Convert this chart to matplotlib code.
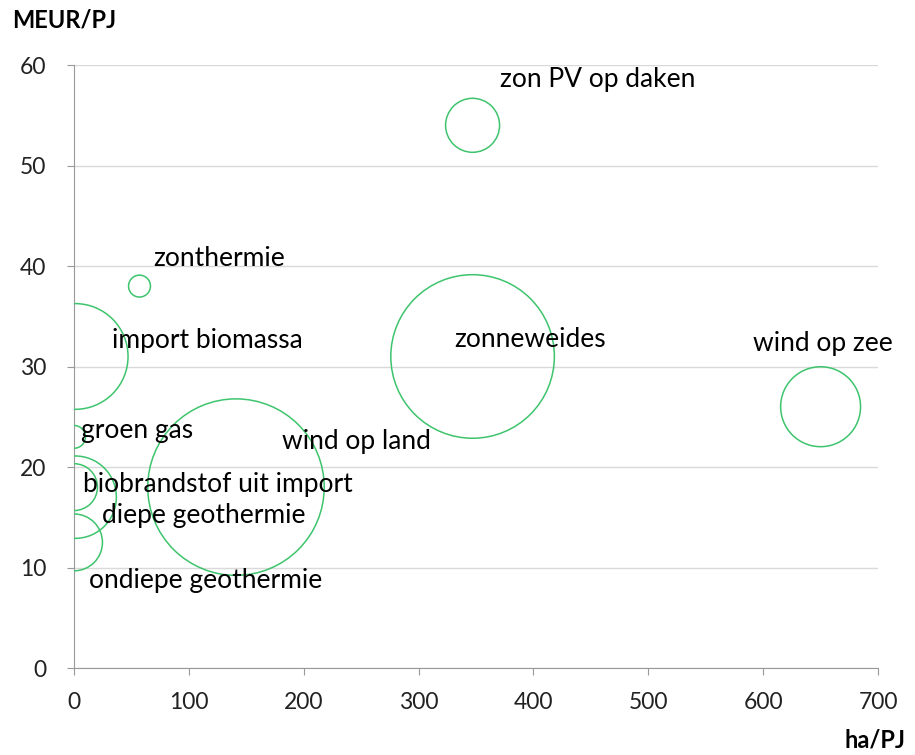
import numpy as np
import matplotlib.pyplot as plt

plt.rcParams['font.family'] = ['Lato', 'DejaVu Sans']

# data: land use (ha/PJ), cost (MEUR/PJ), bubble size (relative potential)
names = ["zon PV op daken", "zonthermie", "import biomassa", "zonneweides",
         "wind op zee", "groen gas", "wind op land", "biobrandstof uit import",
         "diepe geothermie", "ondiepe geothermie"]
ha_pj = [347, 57, 1, 347, 650, 0, 141, 0, 1, 0]
meur_pj = [54, 38, 31, 31, 26, 23, 18, 18, 17, 12.5]
size = [7.3, 1.2, 28, 67, 16, 1.3, 78, 5.5, 17, 8.1]

# label offsets (pixels) relative to bubble centre
label_dx = [27, 14, 37, -18, 2, 7, 46, 9, 27, 15]
label_dy = [46, 28, 16, 17, 63, 6, 46, 3, -18, -38]
label_ha = ["left", "left", "left", "left", "center", "left", "left", "left", "left", "left"]

fig = plt.figure(figsize=(9.15, 7.55), dpi=100)
ax = fig.add_axes([0.0809, 0.1152, 0.8787, 0.7987])

s = 207 * np.array(size)
ax.scatter(ha_pj, meur_pj, s=s, facecolors='none', edgecolors='#3ec46d',
           linewidths=1.1, zorder=3)

for n, x, y, dx, dy, ha in zip(names, ha_pj, meur_pj, label_dx, label_dy, label_ha):
    ax.annotate(n, (x, y), xytext=(dx, dy), textcoords='offset pixels',
                ha=ha, va='center', fontsize=19, color='black', zorder=4,
                annotation_clip=False)

ax.set_xlim(0, 700)
ax.set_ylim(0, 60)
ax.set_xticks(range(0, 701, 100))
ax.set_yticks(range(0, 61, 10))
ax.grid(axis='y', color='#d9d9d9', linewidth=1)
ax.set_axisbelow(True)
for sp in ['top', 'right']:
    ax.spines[sp].set_visible(False)
for sp in ['left', 'bottom']:
    ax.spines[sp].set_color('#999999')
ax.tick_params(axis='both', colors='#999999', labelcolor='#222222',
               labelsize=16.5, length=5)
ax.tick_params(axis='y', pad=15)
ax.tick_params(axis='x', pad=12)

fig.text(12 / 915, 1 - 20 / 755, "MEUR/PJ", fontsize=17, fontweight='bold',
         ha='left', va='center')
fig.text(905 / 915, 1 - 740 / 755, "ha/PJ", fontsize=17, fontweight='bold',
         ha='right', va='center')

fig.savefig('out.png', dpi=100)
